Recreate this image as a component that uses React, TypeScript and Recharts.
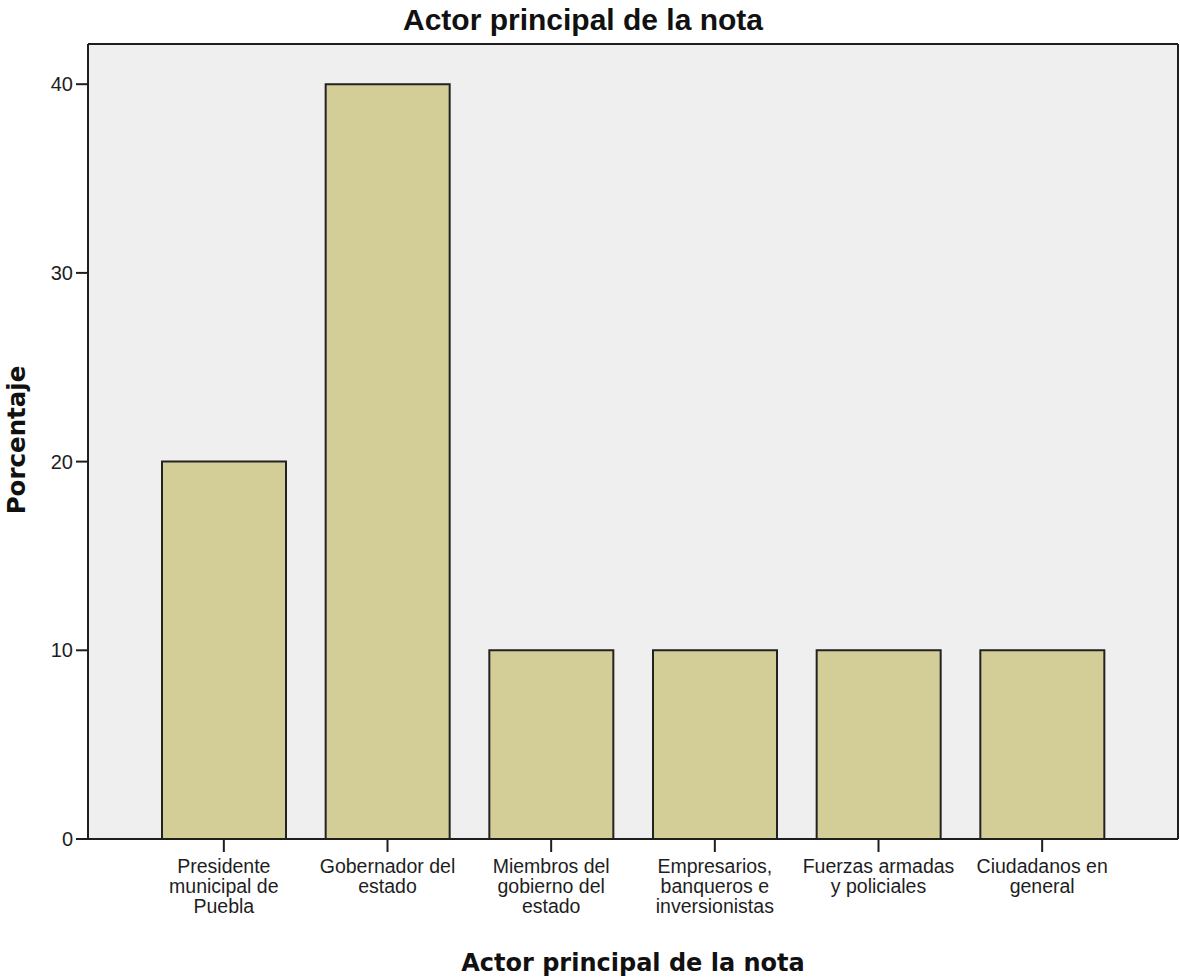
import { BarChart, Bar, XAxis, YAxis, CartesianGrid } from 'recharts'

// Actor principal de la nota (porcentaje)
const categories = [
  'Presidente\nmunicipal de\nPuebla',
  'Gobernador del\nestado',
  'Miembros del\ngobierno del\nestado',
  'Empresarios,\nbanqueros e\ninversionistas',
  'Fuerzas armadas\ny policiales',
  'Ciudadanos en\ngeneral',
]
const percentages = [20, 40, 10, 10, 10, 10]
const yTicks = [0, 10, 20, 30, 40]

const data = categories.map((name, i) => ({ name, value: percentages[i] }))

const TICK_FONT = '"Liberation Sans", Arial, sans-serif'
const LABEL_FONT = '"DejaVu Sans", Verdana, sans-serif'
const INK = '#1e1e1e'

function CategoryTick(props: any) {
  const { x, y, payload } = props
  const lines = String(payload.value).split('\n')
  return (
    <text x={x} y={y} textAnchor="middle" fontFamily={TICK_FONT} fontSize={19.5} fill={INK}>
      {lines.map((line, i) => (
        <tspan key={i} x={x} y={y + 19 + i * 20}>{line}</tspan>
      ))}
    </text>
  )
}

export default function App() {
  return (
    <div style={{ position: 'absolute', left: 0, top: 0, width: 1180, height: 980, background: '#fff' }}>
      <div
        style={{
          position: 'absolute', left: 0, top: 3, width: 1166, textAlign: 'center',
          fontFamily: TICK_FONT, fontWeight: 'bold', fontSize: 30, color: '#111',
        }}
      >
        Actor principal de la nota
      </div>
      <BarChart
        width={1180}
        height={980}
        data={data}
        margin={{ top: 44, right: 2, bottom: 0, left: 0 }}
        barCategoryGap={20}
      >
        {/* plot background + frame (top/bottom, left/right edges of the plot) */}
        <CartesianGrid
          fill="#efefef"
          stroke={INK}
          strokeWidth={2}
          horizontalCoordinatesGenerator={({ offset }: any) => [offset.top, offset.top + offset.height]}
          verticalCoordinatesGenerator={({ offset }: any) => [offset.left, offset.left + offset.width]}
        />
        <XAxis
          dataKey="name"
          interval={0}
          height={141}
          padding={{ left: 54, right: 54 }}
          tickSize={13}
          tickLine={{ stroke: INK, strokeWidth: 2 }}
          axisLine={{ stroke: INK, strokeWidth: 2 }}
          tick={<CategoryTick />}
          label={{
            content: () => (
              <text x={633} y={971} textAnchor="middle" fontFamily={LABEL_FONT} fontWeight="bold" fontSize={24} fill="#111">
                Actor principal de la nota
              </text>
            ),
          }}
        />
        <YAxis
          width={88}
          domain={[0, 42.13]}
          ticks={yTicks}
          tickSize={12}
          tickMargin={3}
          tickLine={{ stroke: INK, strokeWidth: 2 }}
          axisLine={{ stroke: INK, strokeWidth: 2 }}
          tick={{ fontSize: 20, fontFamily: TICK_FONT, fill: INK }}
          label={{
            content: () => (
              <text
                x={25}
                y={440}
                transform="rotate(-90 25 440)"
                textAnchor="middle"
                fontFamily={LABEL_FONT}
                fontWeight="bold"
                fontSize={24.5}
                fill="#111"
              >
                Porcentaje
              </text>
            ),
          }}
        />
        <Bar dataKey="value" fill="#d3ce98" stroke="#222" strokeWidth={2} isAnimationActive={false} />
      </BarChart>
    </div>
  )
}
